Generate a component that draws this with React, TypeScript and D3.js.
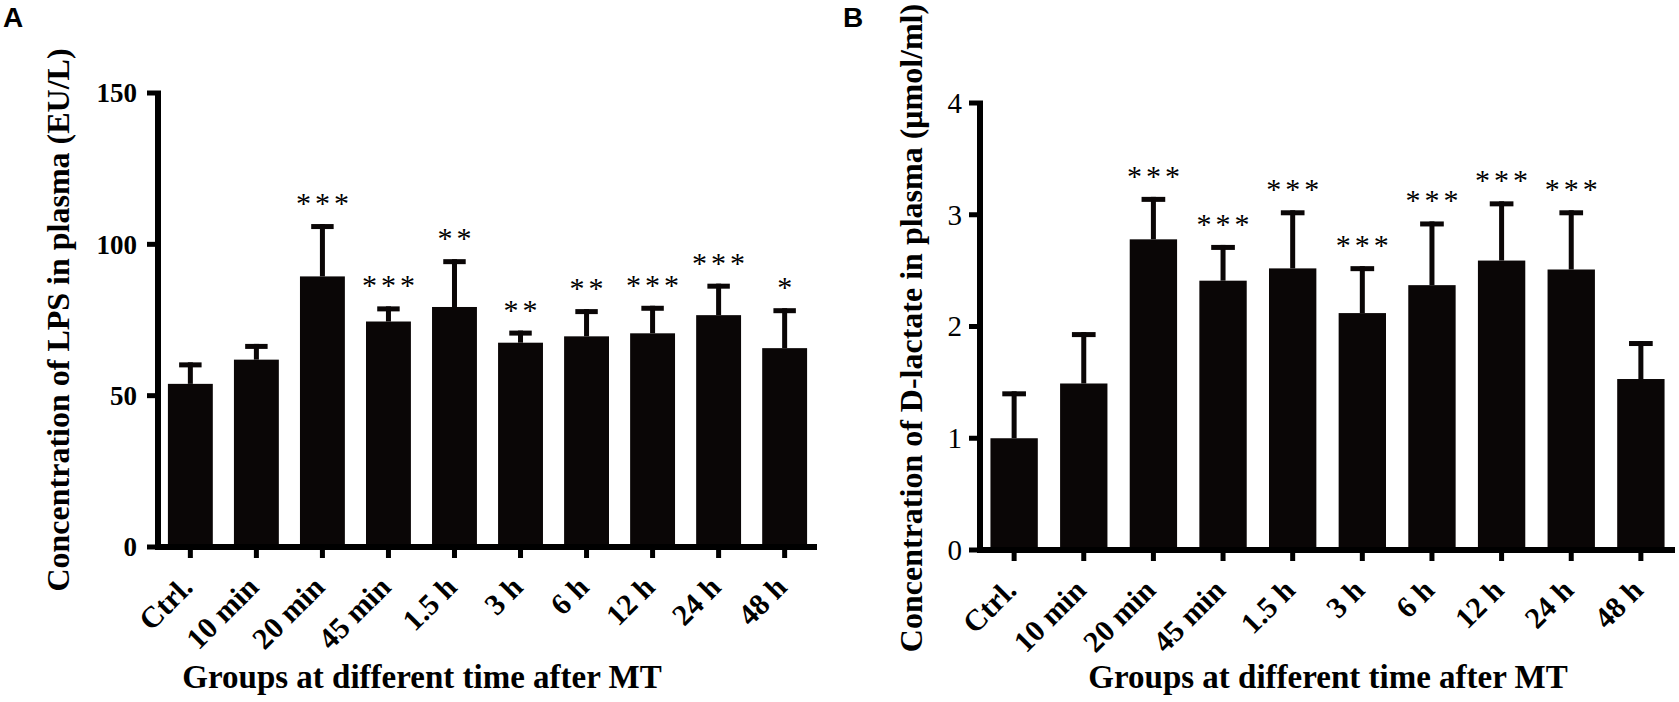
import * as d3 from 'd3';

// groups on the x axis (same for both panels)
const groups = ['Ctrl.', '10 min', '20 min', '45 min', '1.5 h', '3 h', '6 h', '12 h', '24 h', '48 h'];

// panel A: LPS (EU/L)
const lpsMean = [53.9, 61.9, 89.4, 74.5, 79.3, 67.5, 69.6, 70.6, 76.6, 65.7];
const lpsSd = [7.1, 5.2, 17.3, 5.0, 15.8, 4.0, 9.0, 9.1, 10.4, 13.2];
const lpsStars = ['', '', '***', '***', '**', '**', '**', '***', '***', '*'];
const lpsTicks = [0, 50, 100, 150];

// panel B: D-lactate (μmol/ml)
const dlacMean = [1.0, 1.49, 2.78, 2.41, 2.52, 2.12, 2.37, 2.59, 2.51, 1.53];
const dlacSd = [0.42, 0.46, 0.38, 0.32, 0.52, 0.42, 0.57, 0.53, 0.53, 0.34];
const dlacStars = ['', '', '***', '***', '***', '***', '***', '***', '***', ''];
const dlacTicks = [0, 1, 2, 3, 4];

const serif = '"Liberation Serif", "Times New Roman", serif';
const sans = '"Liberation Sans", Arial, sans-serif';
const ink = '#0a0606';

interface PanelProps {
  letter: string;
  letterX: number;
  means: number[];
  sds: number[];
  stars: string[];
  ticks: number[];
  yMax: number;
  x0: number;
  x1: number;
  yTop: number;
  yBottom: number;
  tickBold: boolean;
  tickGap: number;
  yTitle: string;
  yTitleX: number;
  yTitleY: number;
  xTitleX: number;
}

function Panel(p: PanelProps) {
  const x = d3.scaleBand<string>().domain(groups).range([p.x0, p.x1]).paddingInner(0.32).paddingOuter(0.15);
  const y = d3.scaleLinear().domain([0, p.yMax]).range([p.yBottom, p.yTop]);
  const bw = x.bandwidth();
  const lw = 6;
  const starSpace = 4;

  return (
    <g>
      <text x={p.letterX} y={27} fontFamily={sans} fontWeight="700" fontSize={28} fill="#000">{p.letter}</text>

      {/* bars + error bars */}
      {groups.map((g, i) => {
        const left = x(g)!;
        const cx = left + bw / 2;
        const top = y(p.means[i]);
        const errTop = y(p.means[i] + p.sds[i]);
        return (
          <g key={g}>
            <rect x={left} y={top} width={bw} height={p.yBottom - top} fill={ink} />
            <rect x={cx - 2.5} y={errTop} width={5} height={top - errTop} fill={ink} />
            <rect x={cx - bw / 4} y={errTop} width={bw / 2} height={5} fill={ink} />
            {p.stars[i] && (
              <text
                x={cx + starSpace / 2}
                y={errTop - 11}
                textAnchor="middle"
                fontFamily={serif}
                fontSize={30}
                letterSpacing={starSpace}
                fill="#000"
              >
                {p.stars[i]}
              </text>
            )}
          </g>
        );
      })}

      {/* axes */}
      <rect x={p.x0 - lw / 2} y={p.yTop - 2.5} width={lw} height={p.yBottom - p.yTop + 2.5 + lw / 2} fill="#000" />
      <rect x={p.x0 - lw / 2} y={p.yBottom - lw / 2} width={p.x1 - p.x0 + lw / 2} height={lw} fill="#000" />

      {p.ticks.map((t) => (
        <g key={t}>
          <rect x={p.x0 - lw / 2 - 8} y={y(t) - 2.5} width={8} height={5} fill="#000" />
          <text
            x={p.x0 - p.tickGap}
            y={y(t)}
            dy="0.34em"
            textAnchor="end"
            fontFamily={serif}
            fontWeight={p.tickBold ? '700' : '400'}
            fontSize={p.tickBold ? 27 : 29}
            fill="#000"
          >
            {t}
          </text>
        </g>
      ))}

      {groups.map((g) => {
        const cx = x(g)! + bw / 2;
        return (
          <g key={g}>
            <rect x={cx - 2.5} y={p.yBottom + lw / 2} width={5} height={8} fill="#000" />
            <text
              transform={`translate(${cx + 4},${p.yBottom + 42}) rotate(-45)`}
              textAnchor="end"
              fontFamily={serif}
              fontWeight="700"
              fontSize={30}
              fill="#000"
            >
              {g}
            </text>
          </g>
        );
      })}

      <text
        transform={`translate(${p.yTitleX},${p.yTitleY}) rotate(-90)`}
        textAnchor="middle"
        fontFamily={serif}
        fontWeight="700"
        fontSize={32}
        fill="#000"
      >
        {p.yTitle}
      </text>
      <text x={p.xTitleX} y={688} textAnchor="middle" fontFamily={serif} fontWeight="700" fontSize={33} fill="#000">
        Groups at different time after MT
      </text>
    </g>
  );
}

export default function App() {
  return (
    <svg
      width={1679}
      height={702}
      style={{ position: 'absolute', left: 0, top: 0, background: '#fff' }}
    >
      <Panel
        letter="A"
        letterX={3}
        means={lpsMean}
        sds={lpsSd}
        stars={lpsStars}
        ticks={lpsTicks}
        yMax={150}
        x0={158}
        x1={817}
        yTop={93}
        yBottom={547}
        tickBold={true}
        tickGap={21}
        yTitle="Concentration of LPS in plasma (EU/L)"
        yTitleX={69}
        yTitleY={320}
        xTitleX={422}
      />
      <Panel
        letter="B"
        letterX={843}
        means={dlacMean}
        sds={dlacSd}
        stars={dlacStars}
        ticks={dlacTicks}
        yMax={4}
        x0={980}
        x1={1675}
        yTop={103}
        yBottom={550}
        tickBold={false}
        tickGap={18}
        yTitle="Concentration of D-lactate in plasma (μmol/ml)"
        yTitleX={922}
        yTitleY={328}
        xTitleX={1328}
      />
    </svg>
  );
}
